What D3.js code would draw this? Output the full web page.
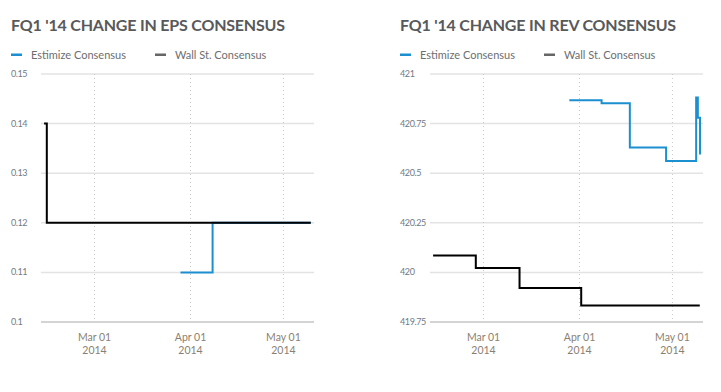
<!DOCTYPE html>
<html>
<head>
<meta charset="utf-8">
<script src="https://cdn.jsdelivr.net/npm/d3@7"></script>
<style>
  body { margin: 0; background: #fff; }
  svg { display: block; font-family: Lato, "Open Sans", sans-serif; }
</style>
</head>
<body>
<svg id="chart" width="721" height="392"></svg>
<script>
// dates shared by both panels
const xStart = "2014-02-11T17:00";
const xEnd = "2014-05-10T21:00";
const xTicks = ["2014-03-01", "2014-04-01", "2014-05-01"];

// EPS panel
const epsTicks = [0.1, 0.11, 0.12, 0.13, 0.14, 0.15];
const epsEstimize = [
    ["2014-03-28T18:00", 0.11],
    ["2014-04-08T03:00", 0.12],
    ["2014-05-09T20:00", 0.12]
];
const epsWallSt = [
    ["2014-02-12T17:00", 0.14],
    ["2014-02-13T14:00", 0.12],
    ["2014-05-09T20:00", 0.12]
];

// REV panel
const revTicks = [419.75, 420, 420.25, 420.5, 420.75, 421];
const revEstimize = [
    ["2014-03-28T17:00", 420.868],
    ["2014-04-08T03:00", 420.853],
    ["2014-04-17T06:00", 420.630],
    ["2014-04-28T23:00", 420.562],
    ["2014-05-08T16:00", 420.881],
    ["2014-05-09T05:00", 420.780],
    ["2014-05-09T22:00", 420.594]
];
const revWallSt = [
    ["2014-02-12T17:00", 420.085],
    ["2014-02-26T12:00", 420.022],
    ["2014-03-12T15:00", 419.922],
    ["2014-04-01T13:00", 419.833],
    ["2014-05-09T20:00", 419.833]
];

const blue = "#1b8fcf";
const svg = d3.select("#chart");
const parse = d3.isoParse;

function drawPanel(ox, title, ticks, estimize, wallSt) {
    let g = svg.append("g").attr("transform", `translate(${ox},0)`);

    g.append("text")
        .attr("x", 11).attr("y", 30.5)
        .attr("fill", "#58595b")
        .attr("font-size", 16).attr("font-weight", 700)
        .attr("letter-spacing", -0.2)
        .text(title);

    // legend
    let legend = [["Estimize Consensus", blue, 11], ["Wall St. Consensus", "#666", 155]];
    legend.forEach(l => {
        g.append("rect").attr("x", l[2]).attr("y", 53.5).attr("width", 11).attr("height", 2.5).attr("fill", l[1]);
        g.append("text").attr("x", l[2] + 20).attr("y", 59)
            .attr("font-size", 11).attr("fill", "#6d6e70").text(l[0]);
    });

    let x = d3.scaleTime()
        .domain([parse(xStart), parse(xEnd)])
        .range([41, 314]);
    let y = d3.scaleLinear()
        .domain([ticks[0], ticks[ticks.length - 1]])
        .range([322, 74]);

    // horizontal grid
    g.selectAll(".hgrid").data(ticks).enter().append("line")
        .attr("x1", 41).attr("x2", 314)
        .attr("y1", d => y(d)).attr("y2", d => y(d))
        .attr("stroke", (d, i) => i == 0 ? "#d4d4d4" : "#e3e3e3")
        .attr("stroke-width", (d, i) => i == 0 ? 2 : 1.5);

    g.selectAll(".ylab").data(ticks).enter().append("text")
        .attr("x", 11).attr("y", d => y(d) + 3)
        .attr("font-size", 9).attr("fill", "#6f7a86")
        .attr("letter-spacing", -0.4)
        .text(d => d);

    // vertical dotted grid
    let xt = xTicks.map(parse);
    g.selectAll(".vgrid").data(xt).enter().append("line")
        .attr("x1", d => x(d)).attr("x2", d => x(d))
        .attr("y1", 74).attr("y2", 321)
        .attr("stroke", "#c8c8c8").attr("stroke-dasharray", "1,3");

    let fmt = d3.timeFormat("%b %d");
    let labs = g.selectAll(".xlab").data(xt).enter().append("text")
        .attr("text-anchor", "middle")
        .attr("font-size", 10.5).attr("fill", "#8b7f72");
    labs.append("tspan").attr("x", d => x(d)).attr("y", 341).text(d => fmt(d));
    labs.append("tspan").attr("x", d => x(d)).attr("y", 354).text(d => d.getFullYear());

    let line = d3.line()
        .x(d => x(parse(d[0])))
        .y(d => y(d[1]))
        .curve(d3.curveStepAfter);

    g.append("path").attr("d", line(estimize))
        .attr("fill", "none").attr("stroke", blue).attr("stroke-width", 2);
    g.append("path").attr("d", line(wallSt))
        .attr("fill", "none").attr("stroke", "#000").attr("stroke-width", 2);
}

drawPanel(0, "FQ1 '14 CHANGE IN EPS CONSENSUS", epsTicks, epsEstimize, epsWallSt);
drawPanel(389, "FQ1 '14 CHANGE IN REV CONSENSUS", revTicks, revEstimize, revWallSt);
</script>
</body>
</html>
